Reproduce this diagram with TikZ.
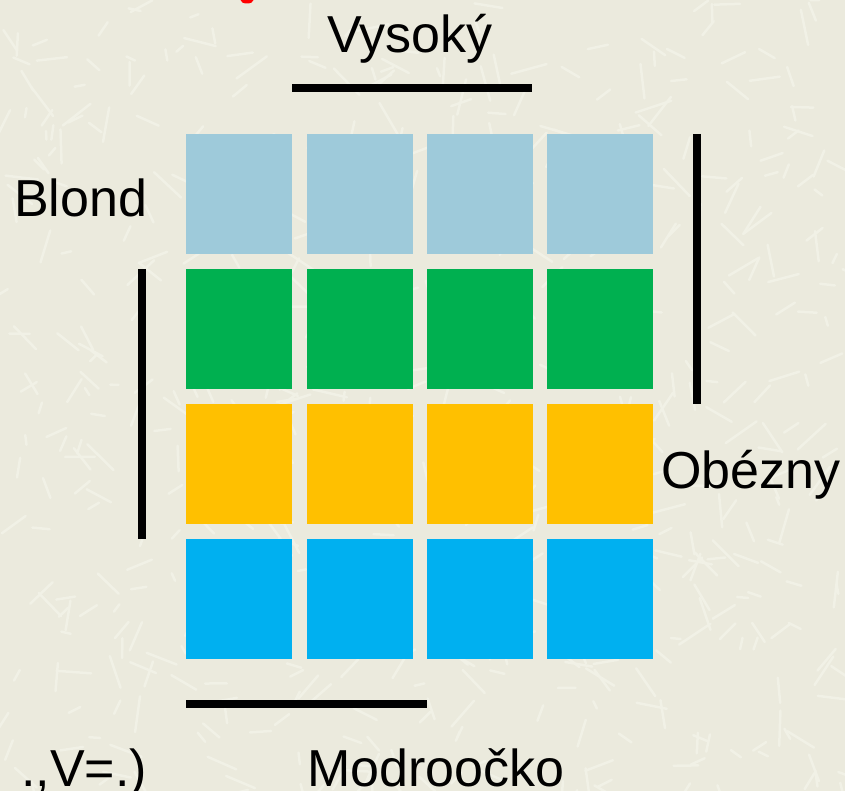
\documentclass[tikz,border=0pt]{standalone}
\usepackage{fontspec}
\setmainfont{Liberation Sans}
\definecolor{bgc}{RGB}{235,234,221}
\definecolor{texc}{RGB}{241,241,230}
\definecolor{rowA}{RGB}{158,202,218}
\definecolor{rowB}{RGB}{0,176,80}
\definecolor{rowC}{RGB}{255,192,0}
\definecolor{rowD}{RGB}{0,176,240}
\definecolor{redmark}{RGB}{255,0,0}
\begin{document}
\begin{tikzpicture}[x=1pt,y=-1pt,
  cell/.style={draw=none,minimum width=106pt,minimum height=120pt,inner sep=0pt,anchor=north west},
  lbl/.style={font=\fontsize{52}{52}\selectfont,inner sep=0pt,text=black},
  bar/.style={line width=8pt,black},
  texture/.style={texc,line width=2.5pt,line cap=round}]
\path[use as bounding box,fill=bgc] (0,0) rectangle (845,791);
\begin{scope}
\clip (0,0) rectangle (845,791);
\pgfmathsetseed{4711}
\foreach \i in {1,...,600}{
  \pgfmathsetmacro{\px}{rnd*845}
  \pgfmathsetmacro{\py}{rnd*791}
  \pgfmathsetmacro{\ang}{rnd*180}
  \pgfmathsetmacro{\len}{8+rnd*30}
  \draw[texture] (\px,\py) -- ++(\ang:\len);
}
\fill[redmark] (247,0) ellipse (6.5 and 3.5);
\node[lbl,anchor=base east] (partial) at (147,786) {.,V=.)};
\end{scope}
% grid
\foreach \c/\x in {1/186,2/307,3/427,4/547}{
  \node[cell,fill=rowA] (a\c) at (\x,134) {};
  \node[cell,fill=rowB] (b\c) at (\x,269) {};
  \node[cell,fill=rowC] (c\c) at (\x,404) {};
  \node[cell,fill=rowD] (d\c) at (\x,539) {};
}
% bars
\coordinate (t1) at (292,88.5); \coordinate (t2) at (531.5,88.5);
\coordinate (l1) at (141.5,269); \coordinate (l2) at (141.5,538.5);
\coordinate (r1) at (696.7,134); \coordinate (r2) at (696.7,403.5);
\coordinate (m1) at (186,703.5); \coordinate (m2) at (426.5,703.5);
\draw[bar] (t1) -- (t2);
\draw[bar] (l1) -- (l2);
\draw[bar] (r1) -- (r2);
\draw[bar] (m1) -- (m2);
% labels
\node[lbl,anchor=base] (vys) at (410,53) {Vysoký};
\node[lbl,anchor=base west] (blond) at (14,217) {Blond};
\node[lbl,anchor=base west] (obez) at (661,488) {Obézny};
\node[lbl,anchor=base west] (modr) at (307,786) {Modroočko};
\end{tikzpicture}
\end{document}
